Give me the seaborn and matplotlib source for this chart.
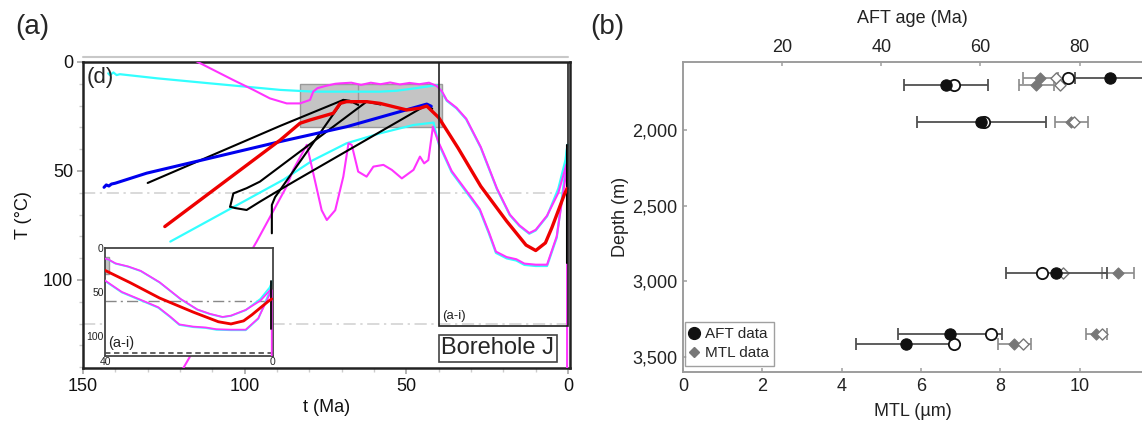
import matplotlib
matplotlib.use("Agg")
import matplotlib.pyplot as plt
import seaborn as sns
from matplotlib.patches import Rectangle
from matplotlib.lines import Line2D

sns.set_theme(style="white")
plt.rcParams['font.family'] = ['Liberation Sans', 'DejaVu Sans']

# ---------------- Panel (a) data: time (Ma) / temperature (degC) paths ----------------
red_t = [124.7, 89, 82.9, 79.8, 72.6, 70.5, 68.5, 62.3, 58.1, 49.9, 45.8, 43.7,
         40, 34, 27, 19, 13, 10, 7, 5, 1.2, 0.3]
red_T = [75.5, 35.8, 28.1, 26.6, 23.5, 19, 18.2, 18.2, 19, 22, 21.2, 20.2,
         25.5, 39.5, 57, 73, 84, 86.5, 83, 76, 61, 58]

blue_t = [143.5, 142.8, 142.0, 141.2, 140, 130.3, 89, 68.5, 43.7, 42.3]
blue_T = [57.5, 56.4, 56.9, 56.0, 55.6, 51, 36.5, 29.7, 19.3, 20.3]

cyan_up_t = [142.2, 141.7, 140.6, 139.6, 138.6, 127, 110.7, 89, 78.8, 58.1, 53, 47, 40.6,
             39, 37.5, 34.5, 31.5, 27, 22, 18, 15, 12, 10, 6.5, 3, 0.8, 0.2]
cyan_up_T = [5.2, 6.0, 4.8, 6.0, 5.6, 7.5, 9.8, 12.8, 13.6, 13.6, 13.2, 12, 10.6,
             13.8, 17.8, 21.3, 26.3, 39.3, 58.3, 70.3, 75.3, 78.8, 77.3, 70.8, 58, 45, 38]

mag_up_t = [116.1, 103.5, 97.3, 92.2, 87, 82.9, 79.8, 78.8, 77.5, 75, 72, 70.5, 67, 64, 61,
            58, 55, 52, 49, 46, 43, 40.6, 39, 37.5, 34.5, 31.5, 27, 22, 18, 15, 12, 10,
            6.5, 3, 0.5]
mag_up_T = [-1.2, 8.3, 12.8, 16.7, 19, 19, 17.4, 13.6, 12, 11, 10, 9.8, 9.5, 10.5, 9.5,
            10.2, 9.4, 10.3, 9.6, 10.2, 9.5, 11, 13.5, 17.5, 21, 26, 39, 58, 70, 75, 78.5, 77,
            70.5, 60, 47]

mag_lo_t = [119, 96.3, 87, 85, 80.8, 78.8, 76.2, 74.6, 72, 69.5, 67.9, 66.9, 64.9, 62.3,
            60.2, 57.1, 54.5, 51.4, 47.8, 45.8, 44.5, 43.2, 41.8, 40, 36, 32.5, 29.5, 27.3,
            24.5, 22.3, 19, 16, 13.5, 10, 6.5, 3.5, 1, 0.3, 0.3]
mag_lo_T = [140.5, 82.4, 57, 49.5, 38, 51, 68, 72.5, 68, 52.6, 37.3, 38, 50.3, 52.6,
            48, 47.2, 49.5, 53.4, 49.5, 43.4, 46.5, 45, 29.7, 37, 50, 57, 63, 67.5,
            78, 87, 89.5, 90.5, 92.5, 93, 93, 80, 55, 48, 145]

cyan_lo_t = [123, 88, 78.8, 68.5, 58.1, 47.8, 41.6, 40, 36, 32.5, 29.5, 27.3, 24.5,
             22.3, 19, 16, 13.5, 10, 6.5, 3.5, 1, 0.2]
cyan_lo_T = [82.4, 54, 45, 37.3, 32.7, 28.9, 27.8, 37.6, 50.6, 57.6, 63.6, 68.1, 78.6,
             87.6, 90.1, 91.1, 93.1, 93.6, 93.6, 80.6, 52, 38]

blk1_t = [130, 89, 69.5, 67.5, 64.9]
blk1_T = [55.5, 29.3, 17.4, 17.8, 19.7]
blk2_t = [104.5, 103.5, 99.4, 95.3, 62.3, 58]
blk2_T = [66.4, 60.3, 57.9, 54.9, 18.2, 19.5]
blk3_t = [104.5, 103, 99.4, 95.3, 90.1, 83.9, 43.7, 42]
blk3_T = [66.4, 67, 67.9, 64.1, 59.5, 54.1, 19.7, 21.5]
blk4_t = [91.6, 91.6, 90.6, 69.5, 67]
blk4_T = [78.6, 65.6, 62, 17.4, 18.5]
blk5_t = [0.4, 0.4]
blk5_T = [38, 92]

box_t = [39, 83]         # grey constraint box (t range)
box_T = [10, 30]         # grey constraint box (T range)
box_mid_t = 65
ref_T = [60, 120]        # dash-dot reference isotherms
zoom_t = 40              # (a-i) window
zoom_T = 121

a_xticks = [150, 100, 50, 0]
a_yticks = [0, 50, 100]

# ---------------- Panel (b) data ----------------
depth = [1658, 1702, 1945, 2946, 3352, 3412]
aft_meas = [86.1, 53.1, 60.2, 75.3, 53.8, 44.9]
aft_err = [7.0, 8.5, 13.0, 10.2, 10.5, 10.0]
aft_model = [77.6, 54.7, 60.7, 72.5, 62.1, 54.7]
mtl_meas = [9.01, 8.91, 9.79, 10.97, 10.42, 8.35]
mtl_err = [0.45, 0.43, 0.42, 0.41, 0.27, 0.41]
mtl_model = [9.40, 9.51, 9.85, 9.58, 10.55, 8.57]

b_yticks = [2000, 2500, 3000, 3500]
b_ylabels = ['2,000', '2,500', '3,000', '3,500']
b_xticks = [0, 2, 4, 6, 8, 10]
b_topticks = [20, 40, 60, 80]

W, H = 1142, 425
fig = plt.figure(figsize=(W / 100, H / 100), dpi=100)

CY = '#33ffff'
MG = '#ff33ff'
RD = '#ee0000'
BL = '#0000ee'


def path(ax, t, T, color, lw, z):
    sns.lineplot(x=t, y=T, ax=ax, sort=False, estimator=None, color=color,
                 lw=lw, zorder=z, legend=False)


def draw_paths(ax, scale=1.0):
    path(ax, cyan_up_t, cyan_up_T, CY, 1.6 * scale, 2)
    path(ax, cyan_lo_t, cyan_lo_T, CY, 1.6 * scale, 2)
    path(ax, mag_up_t, mag_up_T, MG, 1.5 * scale, 3)
    path(ax, mag_lo_t, mag_lo_T, MG, 1.5 * scale, 3)
    for bt, bT in [(blk1_t, blk1_T), (blk2_t, blk2_T), (blk3_t, blk3_T),
                   (blk4_t, blk4_T), (blk5_t, blk5_T)]:
        path(ax, bt, bT, 'black', 1.5 * scale, 4)
    path(ax, blue_t, blue_T, BL, 2.2 * scale, 4.5)
    path(ax, red_t, red_T, RD, 2.4 * scale, 5)


# ---------------- Panel (a) ----------------
axa = fig.add_axes([83 / W, 1 - 368 / H, (570 - 83) / W, (368 - 62) / H])
axa.add_patch(Rectangle((box_t[0], box_T[0]), box_t[1] - box_t[0], box_T[1] - box_T[0],
                        facecolor='#c4c4c4', edgecolor='#9a9a9a', lw=1, zorder=1))
axa.plot([box_mid_t, box_mid_t], box_T, color='#9a9a9a', lw=1, zorder=1.1)
for rT in ref_T:
    axa.axhline(rT, color='#d0d0d0', lw=1.1, dashes=(8, 3, 1.5, 3), zorder=1.5)
draw_paths(axa)
axa.add_patch(Rectangle((0, 0), zoom_t, zoom_T, fill=False, edgecolor='#222222',
                        lw=1.2, zorder=6))
axa.set_xlim(150, -0.6)
axa.set_ylim(140.4, 0)
axa.set_xticks(a_xticks)
axa.set_yticks(a_yticks)
axa.set_xticks(range(0, 151, 10), minor=True)
axa.set_yticks(range(0, 141, 10), minor=True)
axa.tick_params(axis='both', which='major', direction='out', length=4, color='#aaaaaa',
                labelsize=13, labelcolor='#111111', pad=3)
axa.tick_params(axis='both', which='minor', direction='out', length=3, color='#cccccc')
axa.tick_params(axis='x', bottom=True, which='both')
axa.tick_params(axis='y', left=True, which='both')
for s in axa.spines.values():
    s.set_color('#222222')
    s.set_linewidth(1.8)
axa.set_xlabel('t (Ma)', fontsize=13, color='#111111', labelpad=3)
axa.set_ylabel('T (°C)', fontsize=13, color='#111111', labelpad=8)
axa.text(0.008, 0.985, '(d)', transform=axa.transAxes, fontsize=16, ha='left', va='top',
         zorder=7)
axa.text(39, 119.5, '(a-i)', fontsize=9.5, ha='left', va='bottom', color='#222222', zorder=7)
axa.text(0.852, 0.064, 'Borehole J', transform=axa.transAxes, fontsize=17, ha='center',
         va='center', zorder=7,
         bbox=dict(boxstyle='square,pad=0.12', facecolor='white', edgecolor='#444444', lw=1.2))
fig.add_artist(Line2D([83 / W, 568 / W], [1 - 57 / H] * 2, color='#c8c8c8', lw=1.5))

# inset (a-i)
axi = fig.add_axes([105 / W, 1 - 356 / H, (273 - 105) / W, (356 - 248) / H])
axi.set_zorder(10)
axi.set_facecolor('white')
axi.add_patch(Rectangle((box_t[0], box_T[0]), box_t[1] - box_t[0], box_T[1] - box_T[0],
                        facecolor='#c4c4c4', edgecolor='#9a9a9a', lw=1, zorder=1))
axi.axhline(ref_T[0], color='#888888', lw=1.0, dashes=(8, 3, 1.5, 3), zorder=1.5)
axi.axhline(ref_T[1], color='#555555', lw=1.3, dashes=(3, 2), zorder=1.5)
draw_paths(axi, 0.85)
axi.set_xlim(40, 0)
axi.set_ylim(123, 0)
axi.set_xticks([40, 0])
axi.set_yticks([0, 50, 100])
axi.tick_params(axis='both', length=0, labelsize=7.5, pad=1, labelcolor='#222222')
for s in axi.spines.values():
    s.set_color('#444444')
    s.set_linewidth(1.3)
axi.set_xlabel('')
axi.set_ylabel('')
axi.text(0.02, 0.06, '(a-i)', transform=axi.transAxes, fontsize=10.5, ha='left',
         va='bottom', color='#222222')

# ---------------- Panel (b) ----------------
axb = fig.add_axes([683 / W, 1 - 372 / H, (W - 683) / W, (372 - 62) / H])
axb.set_xlim(0, 11.57)
axb.set_ylim(3600, 1550)
axt = axb.twiny()
axt.set_xlim(0, 92.6)

axb.errorbar(mtl_meas, depth, xerr=mtl_err, fmt='none', ecolor='#8a8a8a', elinewidth=1.2,
             capsize=4, capthick=1.2, zorder=2)
axt.errorbar(aft_meas, depth, xerr=aft_err, fmt='none', ecolor='#505050', elinewidth=1.3,
             capsize=4, capthick=1.3, zorder=2)
sns.scatterplot(x=mtl_meas, y=depth, ax=axb, marker='D', s=32, color='#777777',
                edgecolor='#777777', linewidth=0.8, zorder=3, legend=False)
sns.scatterplot(x=mtl_model, y=depth, ax=axb, marker='D', s=32, color='white',
                edgecolor='#777777', linewidth=1.0, zorder=4, legend=False)
sns.scatterplot(x=aft_model, y=depth, ax=axt, marker='o', s=66, color='white',
                edgecolor='#111111', linewidth=1.3, zorder=3, legend=False)
sns.scatterplot(x=aft_meas, y=depth, ax=axt, marker='o', s=66, color='#111111',
                edgecolor='#111111', linewidth=0.8, zorder=4, legend=False)
axb.set_xlim(0, 11.57)
axb.set_ylim(3600, 1550)
axt.set_xlim(0, 92.6)

axb.set_xticks(b_xticks)
axb.set_yticks(b_yticks)
axb.set_yticklabels(b_ylabels)
axt.set_xticks(b_topticks)
for a in (axb, axt):
    a.tick_params(axis='both', direction='in', length=3, color='#aaaaaa', labelsize=13,
                  labelcolor='#222222', pad=4)
axb.tick_params(axis='x', bottom=True)
axb.tick_params(axis='y', left=True)
axt.tick_params(axis='x', top=True)
for a in (axb, axt):
    a.spines['right'].set_visible(False)
    for k in ('left', 'bottom', 'top'):
        a.spines[k].set_color('#9a9a9a')
        a.spines[k].set_linewidth(1.1)
axb.set_xlabel('MTL (µm)', fontsize=13, color='#222222', labelpad=6)
axb.set_ylabel('Depth (m)', fontsize=13, color='#222222', labelpad=2)
axt.set_xlabel('AFT age (Ma)', fontsize=13, color='#222222', labelpad=12)
axt.set_ylabel('')

handles = [Line2D([], [], marker='o', color='none', markerfacecolor='#111111',
                  markeredgecolor='#111111', markersize=8.5),
           Line2D([], [], marker='D', color='none', markerfacecolor='#777777',
                  markeredgecolor='#777777', markersize=5.5)]
leg = axb.legend(handles, ['AFT data', 'MTL data'], loc='lower left',
                 bbox_to_anchor=(0.0, 0.015), fontsize=11, frameon=True, fancybox=False,
                 edgecolor='#888888', handlelength=0.6, handletextpad=0.4,
                 borderpad=0.35, labelspacing=0.35, borderaxespad=0.1)
leg.get_frame().set_linewidth(1.0)

fig.text(15 / W, 1 - 27 / H, '(a)', fontsize=20, ha='left', va='center')
fig.text(590 / W, 1 - 27 / H, '(b)', fontsize=20, ha='left', va='center')

fig.savefig('out.png', dpi=100)
